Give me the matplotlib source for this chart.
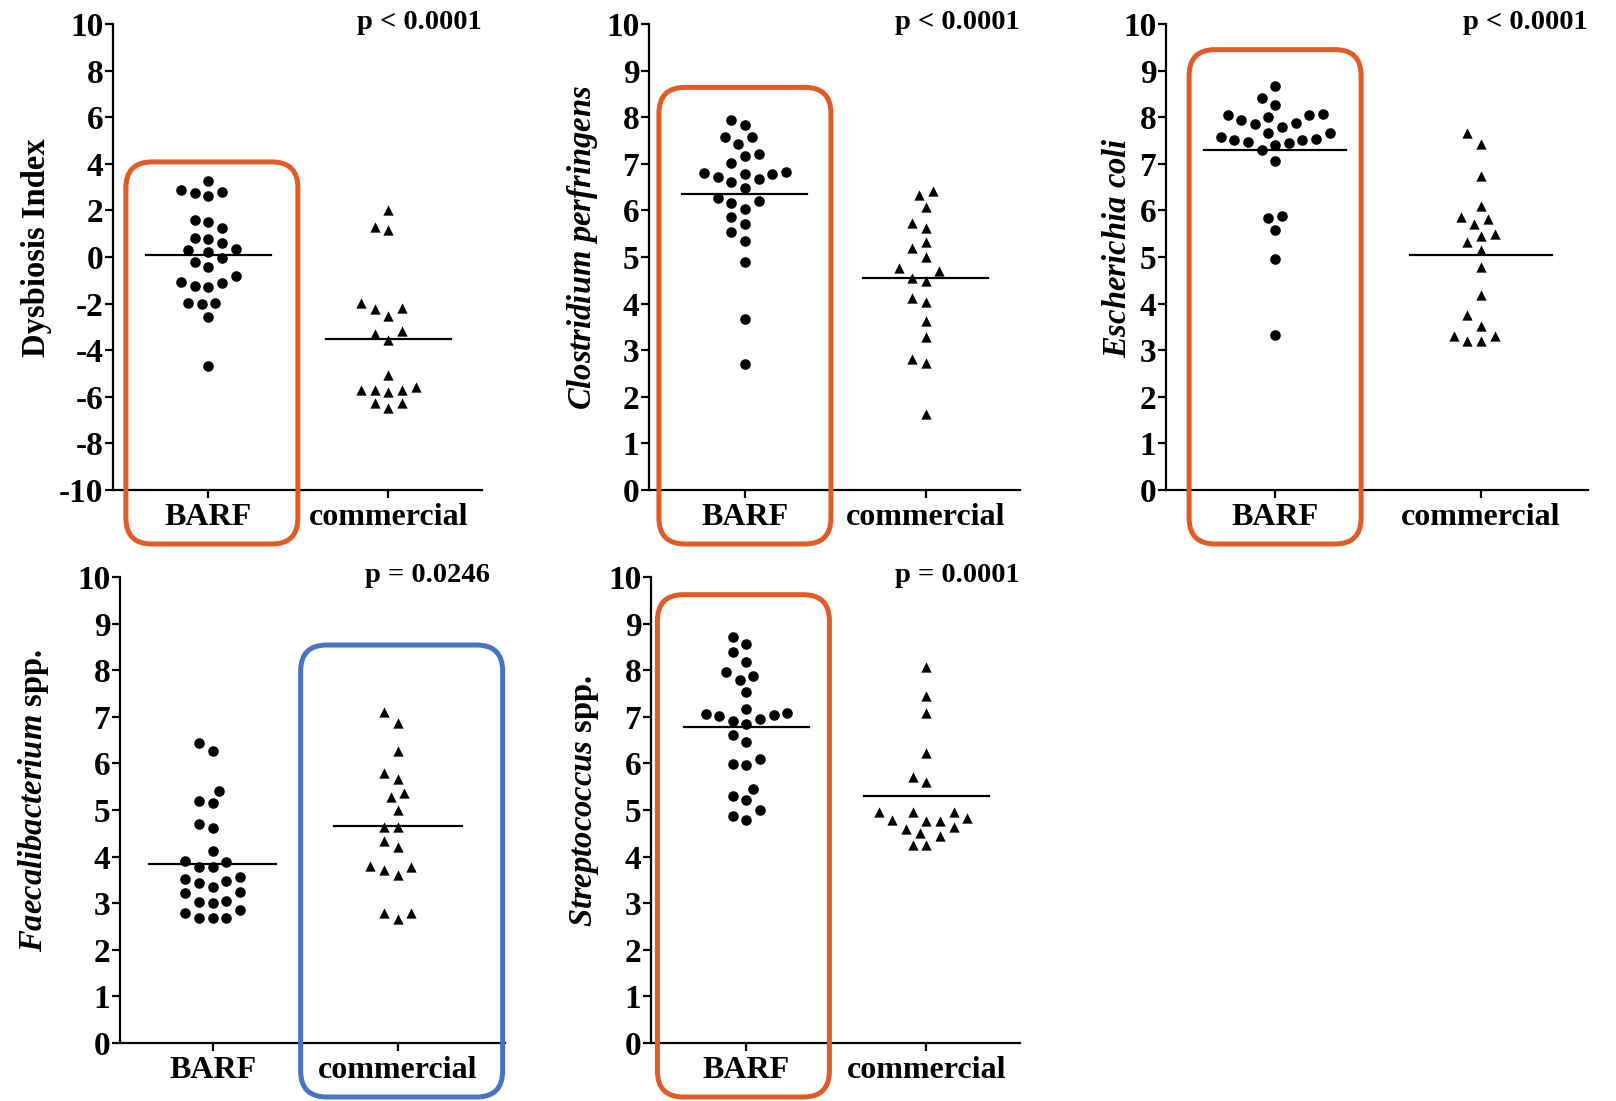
import matplotlib
matplotlib.use("Agg")
import matplotlib.pyplot as plt
import numpy as np
from matplotlib.patches import FancyBboxPatch
from matplotlib.transforms import IdentityTransform

plt.rcParams["font.family"] = "Liberation Serif"
plt.rcParams["font.weight"] = "bold"
plt.rcParams["mathtext.fontset"] = "custom"
plt.rcParams["mathtext.it"] = "Liberation Serif:italic:bold"
plt.rcParams["mathtext.rm"] = "Liberation Serif:bold"
plt.rcParams["mathtext.bf"] = "Liberation Serif:bold"

groups = ["BARF", "commercial"]

# Dysbiosis index
dysbiosis_barf = [3.28, 2.88, 2.73, 2.62, 2.77, 1.52, 1.59, 1.23, 0.77, 0.83, 0.61,
                  0.34, 0.20, 0.30, -0.20, -0.06, -0.44, -0.82, -1.10, -1.27, -1.24,
                  -1.06, -1.96, -2.02, -1.99, -2.56, -4.68]
dysbiosis_comm = [2.02, 1.30, 1.16, -2.20, -2.52, -2.23, -1.96, -3.32, -3.18, -3.56,
                  -5.06, -5.71, -5.71, -5.78, -5.71, -5.59, -6.28, -6.28, -6.49]

# Clostridium perfringens
clostridium_barf = [7.93, 7.84, 7.57, 7.57, 7.43, 7.16, 7.21, 7.02, 6.80, 6.78, 6.82,
                    6.68, 6.62, 6.71, 6.78, 6.48, 6.26, 6.15, 6.21, 6.03, 5.85, 5.71,
                    5.53, 5.34, 4.90, 3.68, 2.70]
clostridium_comm = [6.41, 6.32, 6.07, 5.72, 5.62, 5.32, 5.19, 5.01, 4.76, 4.69, 4.54,
                    4.49, 4.13, 4.03, 3.62, 3.28, 2.82, 2.72, 1.63]

# Escherichia coli
ecoli_barf = [8.68, 8.41, 8.27, 8.07, 8.04, 7.94, 7.86, 7.79, 7.87, 8.00, 8.04, 7.66,
              7.57, 7.52, 7.46, 7.41, 7.45, 7.51, 7.54, 7.66, 7.30, 7.07, 5.88, 5.84,
              5.59, 4.96, 3.32]
ecoli_comm = [7.66, 7.43, 6.74, 6.09, 5.81, 5.86, 5.71, 5.46, 5.49, 5.32, 5.16, 4.79,
              4.18, 3.75, 3.52, 3.31, 3.19, 3.19, 3.31]

# Faecalibacterium spp.
faecali_barf = [6.44, 6.26, 5.41, 5.14, 5.20, 4.69, 4.61, 4.11, 3.90, 3.78, 3.78, 3.88,
                3.56, 3.48, 3.34, 3.44, 3.52, 3.21, 3.03, 3.01, 3.05, 3.25, 2.85, 2.69,
                2.69, 2.69, 2.78]
faecali_comm = [7.11, 6.87, 6.26, 5.79, 5.67, 5.37, 5.28, 5.01, 4.63, 4.63, 4.33, 4.20,
                3.80, 3.72, 3.61, 3.78, 2.80, 2.66, 2.80]

# Streptococcus spp.
strepto_barf = [8.72, 8.57, 8.38, 8.17, 7.97, 7.88, 7.80, 7.54, 7.09, 7.03, 6.95, 6.85,
                6.92, 7.01, 7.06, 7.16, 6.60, 6.45, 6.10, 5.96, 5.98, 5.46, 5.31, 5.21,
                5.00, 4.87, 4.78]
strepto_comm = [8.07, 7.45, 7.09, 6.22, 5.70, 5.60, 4.82, 4.77, 4.96, 4.95, 4.96, 4.77,
                4.79, 4.63, 4.60, 4.45, 4.50, 4.25, 4.25]

p_labels = ["p < 0.0001", "p < 0.0001", "p < 0.0001", "p = 0.0246", "p = 0.0001"]

W, H = 1616, 1101
fig = plt.figure(figsize=(W / 100, H / 100), dpi=100)

ORANGE = "#E15B27"
BLUE = "#4673C6"

# axes boxes in pixels: left, top, right, bottom
panels = [
    dict(box=(113, 24, 482, 490), barf=dysbiosis_barf, comm=dysbiosis_comm,
         ylabel="Dysbiosis Index", ylim=(-10, 10), step=2, p=p_labels[0], px=1.0,
         xlim=(-0.53, 1.52), lab_x=-0.166, hl=(0, 4.08, ORANGE, 86, 3.5)),
    dict(box=(649, 24, 1020, 490), barf=clostridium_barf, comm=clostridium_comm,
         ylabel=r"$\mathit{Clostridium\ perfringens}$", ylim=(0, 10), step=1,
         p=p_labels[1], px=1.0, xlim=(-0.53, 1.52), lab_x=-0.131,
         hl=(0, 8.64, ORANGE, 86, 0)),
    dict(box=(1166, 24, 1588, 490), barf=ecoli_barf, comm=ecoli_comm,
         ylabel=r"$\mathit{Escherichia\ coli}$", ylim=(0, 10), step=1, p=p_labels[2],
         px=1.0, xlim=(-0.53, 1.52), lab_x=-0.079, hl=(0, 9.45, ORANGE, 86, 0)),
    dict(box=(120, 577, 505, 1043), barf=faecali_barf, comm=faecali_comm,
         ylabel=r"$\mathit{Faecalibacterium}$ spp.", ylim=(0, 10), step=1,
         p=p_labels[3], px=0.962, xlim=(-0.50, 1.58), lab_x=-0.178,
         hl=(1, 8.54, BLUE, 101, 4)),
    dict(box=(651, 577, 1020, 1043), barf=strepto_barf, comm=strepto_comm,
         ylabel=r"$\mathit{Streptococcus}$ spp.", ylim=(0, 10), step=1, p=p_labels[4],
         px=1.0, xlim=(-0.53, 1.52), lab_x=-0.136, hl=(0, 9.62, ORANGE, 86, -3)),
]


def swarm_x(ax, center, values, step_px):
    # beeswarm from the lowest value upward, so each row fans out in a V
    vals = np.asarray(values, float)
    pts = ax.transData.transform(np.column_stack([np.full(len(vals), center), vals]))
    ypx = pts[:, 1]
    unit = ax.transData.transform([[1, 0]])[0, 0] - ax.transData.transform([[0, 0]])[0, 0]
    cands = sorted({k * step_px / 2 for k in range(-16, 17)}, key=lambda c: (abs(c), c))
    placed = []
    xs = np.zeros(len(vals))
    for i in np.argsort(vals, kind="stable"):
        for c in cands:
            if all((c - px) ** 2 + (ypx[i] - py) ** 2 >= (step_px * 0.97) ** 2
                   for px, py in placed):
                break
        placed.append((c, ypx[i]))
        xs[i] = center + c / unit
    return xs


for pn in panels:
    l, t, r, b = pn["box"]
    ax = fig.add_axes([l / W, 1 - b / H, (r - l) / W, (b - t) / H])
    ax.set_xlim(*pn["xlim"])
    ax.set_ylim(*pn["ylim"])
    lo, hi = pn["ylim"]
    ticks = np.arange(lo, hi + 0.1, pn["step"])
    ax.set_yticks(ticks)
    ax.set_yticklabels([str(int(v)) for v in ticks])
    ax.set_xticks([0, 1])
    ax.set_xticklabels(groups)
    for s in ["top", "right"]:
        ax.spines[s].set_visible(False)
    for s in ["left", "bottom"]:
        ax.spines[s].set_linewidth(1.6)
    ax.tick_params(axis="y", labelsize=24, width=1.6, length=6, pad=1)
    ax.tick_params(axis="x", labelsize=23, width=1.6, length=6, pad=3.5)

    xb = swarm_x(ax, 0, pn["barf"], 13.6)
    xc = swarm_x(ax, 1, pn["comm"], 13.6)
    ax.scatter(xb, pn["barf"], s=58, marker="o", color="black", linewidths=0, zorder=3)
    ax.scatter(xc, pn["comm"], s=55, marker="^", color="black", linewidths=0, zorder=3)

    # group means
    for x0, v in [(0, pn["barf"]), (1, pn["comm"])]:
        ax.plot([x0 - 0.345, x0 + 0.345], [np.mean(v)] * 2, color="black", lw=1.6, zorder=4)

    ax.set_ylabel(pn["ylabel"], fontsize=23.5, fontweight="bold")
    ax.yaxis.set_label_coords(pn["lab_x"], 0.52)
    ax.text(pn["px"], 1.004, pn["p"], transform=ax.transAxes, ha="right", va="center",
            fontsize=20.5, fontweight="bold")

    # rounded highlight frame around one group
    gx, top_val, col, half, shift = pn["hl"]
    cx, ty = ax.transData.transform([[gx, top_val]])[0]
    cx += shift
    by = H - b - 54
    fig.add_artist(FancyBboxPatch((cx - half, by), 2 * half, ty - by,
                                  boxstyle="round,pad=0,rounding_size=26",
                                  transform=IdentityTransform(), fill=False,
                                  edgecolor=col, linewidth=3.6, zorder=5))

fig.savefig("out.png", dpi=100)
